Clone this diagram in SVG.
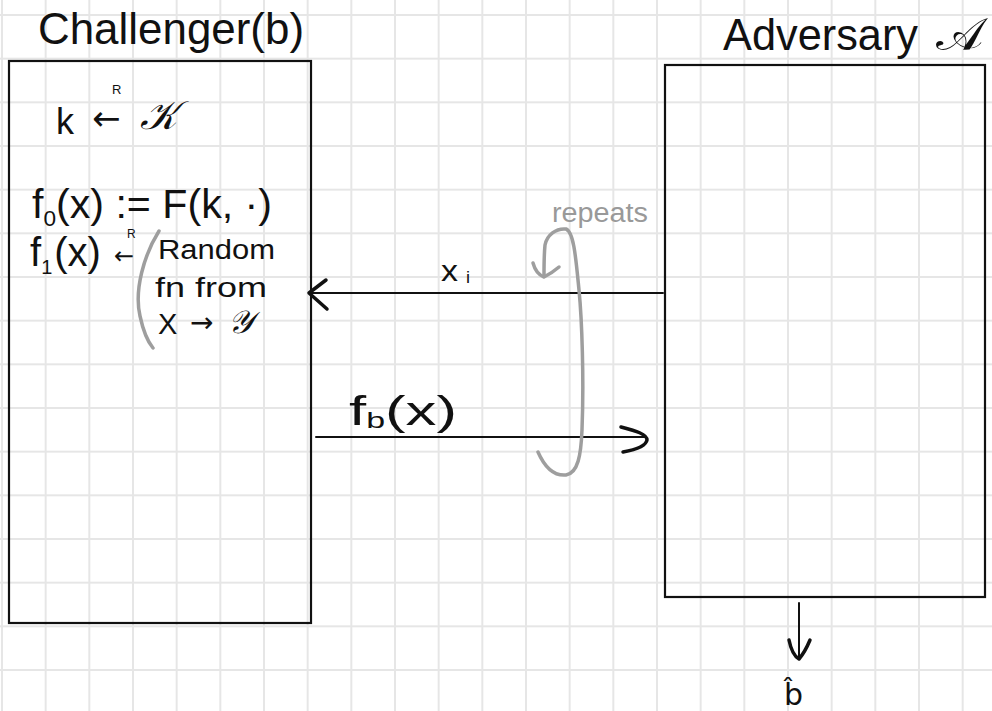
<svg xmlns="http://www.w3.org/2000/svg" width="992" height="711" viewBox="0 0 992 711">
<defs>
<pattern id="grid" x="1" y="14" width="43.667" height="43.667" patternUnits="userSpaceOnUse">
<rect x="0" y="0" width="2" height="43.667" fill="#e6e6e6"/>
<rect x="0" y="0" width="43.667" height="2" fill="#e6e6e6"/>
</pattern>
<style>
.box{fill:none;stroke:#111;stroke-width:2.2}
.ink{font-family:"Liberation Sans","DejaVu Sans",sans-serif;fill:#111}
.arr{font-family:"DejaVu Sans",sans-serif}
.gray{font-family:"Liberation Sans","DejaVu Sans",sans-serif;fill:#999}
.line{fill:none;stroke:#111;stroke-width:2;stroke-linecap:round}
.head{fill:none;stroke:#111;stroke-width:3.5;stroke-linecap:round;stroke-linejoin:round}
.loop{fill:none;stroke:#9e9e9e;stroke-width:3.5;stroke-linecap:round;stroke-linejoin:round}
</style>
</defs>
<rect width="992" height="711" fill="#ffffff"/>
<rect width="992" height="711" fill="url(#grid)"/>

<g id="challenger">
<rect class="box" x="9" y="61" width="302" height="562"/>
<text class="ink" x="38" y="44" font-size="44" textLength="266" lengthAdjust="spacingAndGlyphs">Challenger(b)</text>
<text class="ink" x="56" y="134" font-size="36">k<tspan class="arr" x="92" y="130" font-size="34">←</tspan><tspan x="112" y="94" font-size="13">R</tspan><tspan x="140" y="129" font-size="40" font-style="italic">𝒦</tspan></text>
<text class="ink" x="32" y="218" font-size="40" textLength="240" lengthAdjust="spacingAndGlyphs">f<tspan font-size="22" dy="8">0</tspan><tspan dy="-8">(x) := F(k, ·)</tspan></text>
<text class="ink" x="30" y="266" font-size="40">f<tspan font-size="20" dy="8">1</tspan><tspan dx="2" dy="-8">(x)</tspan><tspan class="arr" x="114" y="264" font-size="24">←</tspan><tspan x="127" y="238" font-size="12">R</tspan></text>
<path class="loop" d="M159 231 C144 255 134 290 140 316 C143 330 148 342 153 348" stroke-width="2.2"/>
<text class="ink" x="158" y="259" font-size="27" textLength="117" lengthAdjust="spacingAndGlyphs">Random</text>
<text class="ink" x="155" y="297" font-size="27" textLength="112" lengthAdjust="spacingAndGlyphs">fn from</text>
<text class="ink" x="158" y="334" font-size="29">X<tspan class="arr" x="190" y="332" font-size="28">→</tspan><tspan x="228" y="333" font-style="italic" font-size="32">𝒴</tspan></text>
</g>

<g id="adversary">
<rect class="box" x="665" y="65" width="320" height="532"/>
<text class="ink" x="723" y="50" font-size="44" textLength="195" lengthAdjust="spacingAndGlyphs">Adversary</text>
<text class="ink" x="936" y="50" font-size="46" textLength="48" lengthAdjust="spacingAndGlyphs">𝒜</text>
</g>

<g id="output">
<text x="784" y="705" font-size="30" font-family="DejaVu Sans, sans-serif" fill="#111">b̂</text>
</g>

<g id="connectors">
<g id="edge-xi">
<line class="line" x1="663" y1="293" x2="309" y2="293"/>
<path class="head" d="M326 280 L309 293 L327 309"/>
<text class="ink" x="441" y="281" font-size="30" textLength="21" lengthAdjust="spacingAndGlyphs">x<tspan x="466" y="283" font-size="16">i</tspan></text>
</g>
<g id="edge-fb">
<line class="line" x1="316" y1="437" x2="646" y2="437"/>
<path class="head" d="M621 427 C636 431 647 434 647 440 C646 446 634 450 623 452"/>
<text class="ink" x="349" y="425" font-size="40" textLength="108" lengthAdjust="spacingAndGlyphs">f<tspan font-size="22" dy="3">b</tspan><tspan dy="-3">(x)</tspan></text>
</g>
<g id="edge-repeats">
<path class="loop" d="M538 452 C545 468 555 476 566 475 C578 473 581 455 582 430 C584 380 582 320 579 290 C576 260 574 232 566 229 C556 228 547 235 545 245 C544 255 544 265 544 276"/>
<path class="loop" d="M533 263 Q536 274 544 277 Q552 273 559 267"/>
<text class="gray" x="552" y="222" font-size="27" textLength="96" lengthAdjust="spacingAndGlyphs">repeats</text>
</g>
<g id="edge-out">
<line class="line" x1="799" y1="603" x2="799" y2="658"/>
<path class="head" d="M789 640 Q792 655 799 659 Q805 652 810 640"/>
</g>
</g>
</svg>
